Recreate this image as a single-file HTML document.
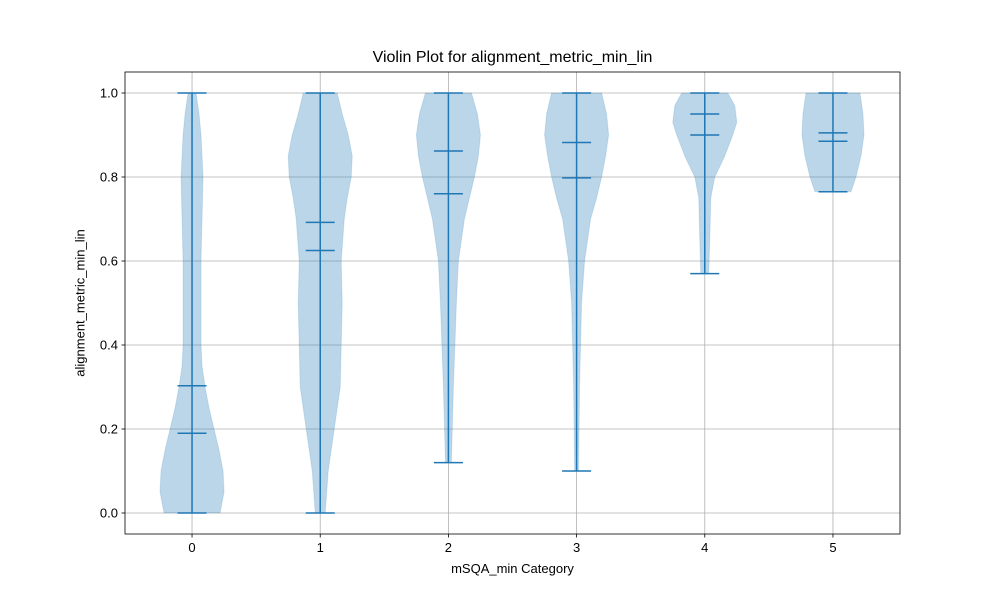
<!DOCTYPE html>
<html><head><meta charset="utf-8"><style>
body{margin:0;background:#fff;font-family:"Liberation Sans","DejaVu Sans",sans-serif}
svg text{font-family:"Liberation Sans","DejaVu Sans",sans-serif;fill:#000}
</style></head><body>
<svg id="c" width="1000" height="600" xmlns="http://www.w3.org/2000/svg"></svg>
<script>
const categories=["0","1","2","3","4","5"];
const yTicks=[0,0.2,0.4,0.6,0.8,1.0];
const yTickLabels=["0.0","0.2","0.4","0.6","0.8","1.0"];
const mins=[0,0,0.12,0.10,0.57,0.765];
const maxs=[1,1,1,1,1,1];
const means=[0.303,0.692,0.862,0.882,0.95,0.905];
const medians=[0.19,0.625,0.76,0.798,0.90,0.885];
const kdeY0=[0,0.05,0.1,0.15,0.2,0.25,0.3,0.35,0.4,0.5,0.6,0.7,0.8,0.9,0.95,1];
const kdeW0=[28,32,31,27,22,17,13,10,9,9,9,10,11,9,7,4];
const kdeY1=[0,0.1,0.2,0.3,0.4,0.5,0.6,0.7,0.75,0.8,0.85,0.9,0.95,1];
const kdeW1=[5,8,14,20,21,22,21,24,27,31,32,28,22,17];
const kdeY2=[0.12,0.3,0.5,0.6,0.7,0.8,0.85,0.9,0.95,1];
const kdeW2=[3,5,8,10,16,26,30,32,29,23];
const kdeY3=[0.10,0.3,0.5,0.6,0.7,0.75,0.8,0.85,0.9,0.95,1];
const kdeW3=[2,3,5,8,14,20,25,29,32,30,25];
const kdeY4=[0.57,0.65,0.75,0.8,0.85,0.9,0.93,0.97,1];
const kdeW4=[4,5,6,10,20,28,32,30,23];
const kdeY5=[0.765,0.8,0.85,0.9,0.95,1];
const kdeW5=[18,23,28,31,30,27];
const kdeYs=[kdeY0,kdeY1,kdeY2,kdeY3,kdeY4,kdeY5];
const kdeWs=[kdeW0,kdeW1,kdeW2,kdeW3,kdeW4,kdeW5];

const L=125,R=900,T=72,B=534,xmin=-0.523,xmax=5.523,ymin=-0.05,ymax=1.05;
const xs=v=>L+(v-xmin)/(xmax-xmin)*(R-L);
const ys=v=>B-(v-ymin)/(ymax-ymin)*(B-T);
const wScale=0.25*(R-L)/(xmax-xmin); // px for width value 32
const svg=document.getElementById('c');
const NS="http://www.w3.org/2000/svg";
function mk(t,a,p){const e=document.createElementNS(NS,t);for(const k in a)e.setAttribute(k,a[k]);(p||svg).appendChild(e);return e;}
const grid=mk('g',{});


categories.forEach((c,i)=>{mk('line',{x1:xs(i),x2:xs(i),y1:T,y2:B,stroke:'#b0b0b0','stroke-width':0.8},grid);});
yTicks.forEach(v=>{mk('line',{x1:L,x2:R,y1:ys(v),y2:ys(v),stroke:'#b0b0b0','stroke-width':0.8},grid);});
categories.forEach((c,i)=>{
  const g=mk('g',{});
  
  
  const Y=kdeYs[i],W=kdeWs[i],cx=xs(i);
  let d='';
  Y.forEach((y,j)=>{d+=(j?'L':'M')+(cx+W[j]/32*wScale)+','+ys(y);});
  for(let j=Y.length-1;j>=0;j--)d+='L'+(cx-W[j]/32*wScale)+','+ys(Y[j]);
  d+='Z';
  const b=mk('path',{d:d,fill:'#1f77b4','fill-opacity':0.3,'stroke':'#1f77b4','stroke-opacity':0.15,'stroke-linejoin':'round'},g);
  
  
  const st={stroke:'#1f77b4','stroke-width':1.5};
  mk('line',Object.assign({x1:cx,x2:cx,y1:ys(mins[i]),y2:ys(maxs[i])},st),g);
  [mins[i],maxs[i],means[i],medians[i]].forEach(v=>{
    mk('line',Object.assign({x1:cx-14.5,x2:cx+14.5,y1:ys(v),y2:ys(v)},st),g);
  });
});
mk('rect',{x:L,y:T,width:R-L,height:B-T,fill:'none',stroke:'#000','stroke-width':0.8});
categories.forEach((c,i)=>{
  mk('line',{x1:xs(i),x2:xs(i),y1:B,y2:B+3.5,stroke:'#000','stroke-width':0.8});
  const t=mk('text',{x:xs(i),y:B+18,'text-anchor':'middle','font-size':13});t.textContent=c;
  
  
});
yTicks.forEach((v,i)=>{
  mk('line',{x1:L-3.5,x2:L,y1:ys(v),y2:ys(v),stroke:'#000','stroke-width':0.8});
  const t=mk('text',{x:L-7,y:ys(v)+4.5,'text-anchor':'end','font-size':13});t.textContent=yTickLabels[i];
  
  
});
</script>
<div style="position:absolute;left:0;top:0;width:1000px;height:600px;pointer-events:none">
<div style="position:absolute;left:0;width:1025px;top:49px;text-align:center;font-size:16px">Violin Plot for alignment_metric_min_lin</div>
<div style="position:absolute;left:0;width:1025px;top:561px;text-align:center;font-size:13px">mSQA_min Category</div>
<div style="position:absolute;left:80px;top:303px;font-size:13px;transform:translate(-50%,-50%) rotate(-90deg);white-space:nowrap">alignment_metric_min_lin</div>
</div>
</body></html>
